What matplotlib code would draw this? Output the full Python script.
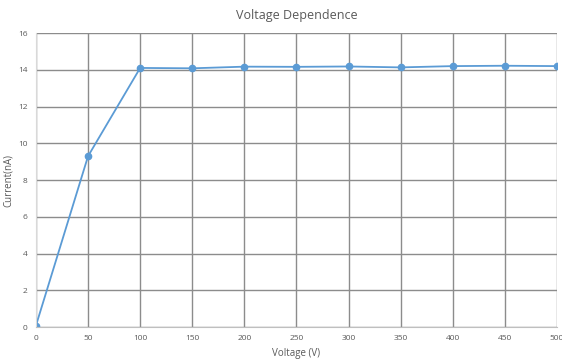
import matplotlib
matplotlib.use('agg')
import matplotlib.pyplot as plt

# data
voltage = [0, 50, 100, 150, 200, 250, 300, 350, 400, 450, 500]
current = [0.08, 9.3, 14.1, 14.08, 14.17, 14.16, 14.18, 14.13, 14.2, 14.22, 14.2]

plt.rcParams['font.family'] = ['Open Sans', 'DejaVu Sans']
txt = '#595959'
grid = '#8c8c8c'

fig = plt.figure(figsize=(5.62, 3.59), dpi=100)
ax = fig.add_axes([0.064, 0.089, 0.927, 0.819])

ax.plot(voltage, current, color='#5b9bd5', linewidth=1.3, marker='o', markersize=4.5)

ax.set_xlim(0, 500)
ax.set_ylim(0, 16)
ax.set_xticks(range(0, 501, 50))
ax.set_yticks(range(0, 17, 2))
ax.grid(True, color=grid, linewidth=1)
ax.set_axisbelow(True)
ax.tick_params(length=0, labelsize=6, colors=txt, pad=6)
for s in ['top', 'right']:
    ax.spines[s].set_visible(False)
ax.spines['left'].set_color('#d9d9d9')
ax.spines['bottom'].set_color('#bfbfbf')

ax.set_title('Voltage Dependence', fontsize=9, color=txt, pad=10)
ax.set_xlabel('Voltage (V)', fontsize=7, color=txt, labelpad=4)
ax.set_ylabel('Current(nA)', fontsize=7, color=txt, labelpad=3)

plt.savefig('out.png', dpi=100)
